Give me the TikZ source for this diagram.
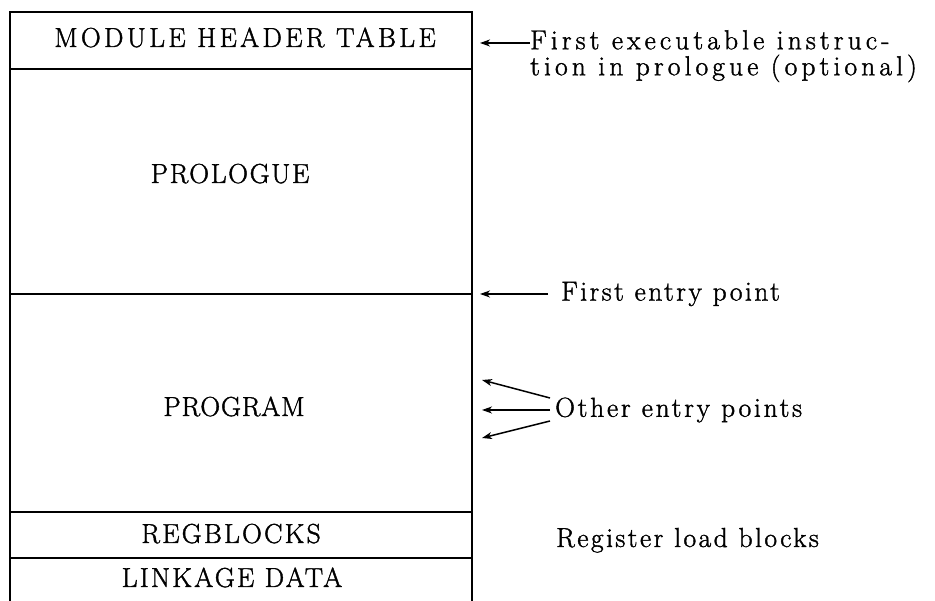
\documentclass[tikz,border=0pt]{standalone}
\usepackage{fontspec}
\setmainfont{Latin Modern Roman}[FakeBold=1.4]
\usetikzlibrary{arrows.meta}
\tikzset{
  part/.style={font=\fontsize{27.5}{30}\selectfont\addfontfeature{LetterSpace=#1}, inner sep=0pt},
  part/.default=4,
  note/.style={font=\fontsize{27.5}{26}\selectfont\addfontfeature{LetterSpace=#1}, inner sep=0pt, align=left},
  note/.default=9,
  entry/.style={-{Stealth[length=10pt,width=7pt,inset=3pt]}, line width=1.5pt},
}
\begin{document}
\begin{tikzpicture}[x=1pt,y=1pt]
  \useasboundingbox (0,0) rectangle (935,601);
  % module layout
  \draw[line width=1.5pt] (10,0) -- (10,589) -- (472,589) -- (472,0);
  \foreach \y in {532,307,89,43}
    \draw[line width=1.3pt] (10,\y) -- (472,\y);
  \node[part=12,anchor=base] (mht) at (245,554) {MODULE HEADER TABLE};
  \node[part=6,anchor=base] (pro) at (230,418) {PROLOGUE};
  \node[part=3,anchor=base] (prg) at (234,185) {PROGRAM};
  \node[part=8,anchor=base] (reg) at (231,58) {REGBLOCKS};
  \node[part=8,anchor=base] (lnk) at (232,14) {LINKAGE DATA};
  % entry points
  \coordinate (t1) at (480,558);
  \coordinate (t2) at (480,307);
  \coordinate (o1) at (482,221);
  \coordinate (o2) at (482,191);
  \coordinate (o3) at (482,163);
  \node[note=15,anchor=north west] (fexe) at (530,571)
    {First executable instruc-\\tion in prologue (optional)};
  \node[note,anchor=west,inner xsep=13pt] (fep) at (548,307) {First entry point};
  \node[note=10,anchor=west,inner xsep=5pt] (oep) at (550,191) {Other entry points};
  \node[note,anchor=base west] (rlb) at (556,54) {Register load blocks};
  \draw[entry] (fexe.west |- t1) -- (t1);
  \draw[entry] (fep.west) -- (t2);
  \draw[entry] ([yshift=12pt]oep.west) -- (o1);
  \draw[entry] (oep.west) -- (o2);
  \draw[entry] ([yshift=-11pt]oep.west) -- (o3);
\end{tikzpicture}
\end{document}
